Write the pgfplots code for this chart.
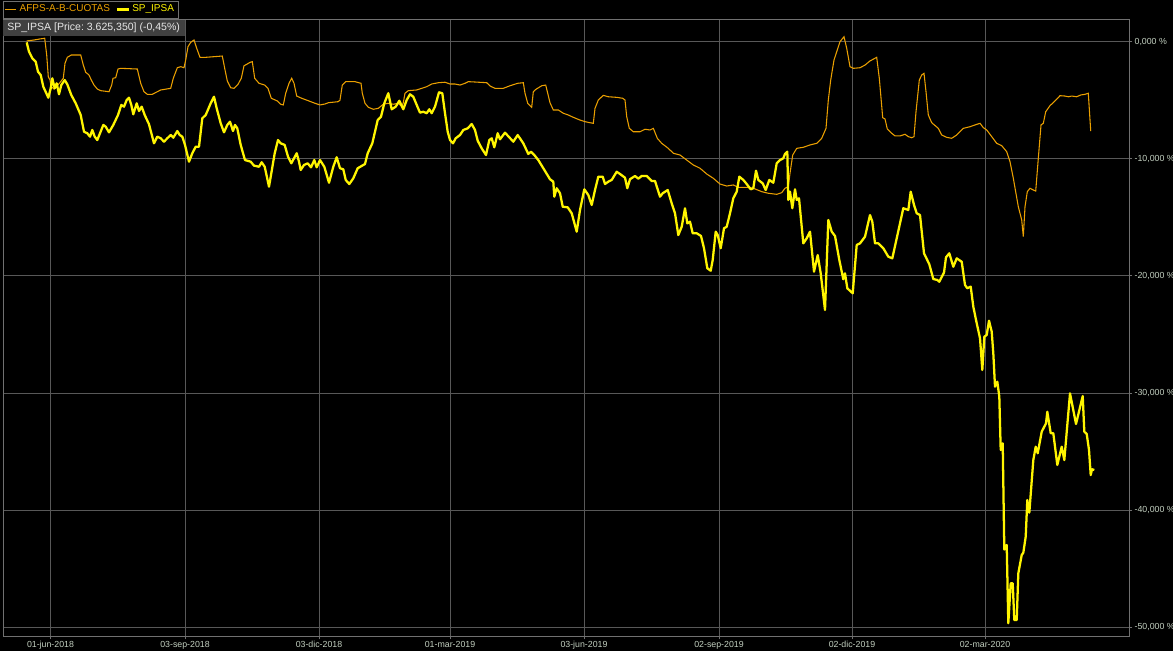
\documentclass[border=0pt]{standalone}
\usepackage{pgfplots}
\pgfplotsset{compat=1.18}
\usepackage{fontspec}
\setmainfont{Liberation Sans}
\frenchspacing

\definecolor{afp}{RGB}{235,160,0}
\definecolor{ipsa}{RGB}{255,245,0}
\definecolor{gridc}{RGB}{88,88,88}
\definecolor{framec}{RGB}{112,112,112}
\definecolor{tickc}{RGB}{195,208,192}
\definecolor{tagbg}{RGB}{64,64,64}

% x is the horizontal position on the chart (1 unit per pixel column), y is percent change
\pgfplotstableread{
x y
26.7 0.09
34 0.17
40 0.26
44.7 0.32
46.7 -1.11
48.3 -2.97
50 -3.25
51.3 -3.82
54 -4.02
57.3 -3.74
60.7 -3.39
63.3 -3.10
65 -1.82
67.3 -1.31
71.3 -1.11
80.7 -1.11
83.3 -1.97
85.7 -2.59
89 -2.82
91.3 -3.25
94 -3.68
97.3 -4.02
100.7 -4.16
109 -4.25
111.7 -3.68
113 -3.10
115.7 -3.05
118 -2.31
120.7 -2.25
137.3 -2.31
140.7 -3.53
144 -4.25
147.3 -4.47
152.3 -4.47
157.3 -4.25
160.7 -4.10
170.7 -3.96
173.3 -3.10
177.3 -2.20
180.7 -2.11
184 -2.20
185.7 -1.54
188 -0.40
190.7 -0.03
194 0.17
196.7 -0.54
200 -1.31
205.7 -1.31
213.3 -1.26
222.3 -1.20
224.7 -2.25
227.3 -3.33
230.7 -3.91
234 -3.96
238 -3.62
241.3 -3.10
244 -2.03
246.7 -1.91
250 -1.74
252.3 -1.68
254.7 -3.10
259 -3.53
264.7 -3.68
268 -3.96
271.3 -4.81
277.3 -5.04
280.7 -5.32
283.3 -5.38
285.7 -4.38
289 -3.53
291.7 -3.10
294 -3.53
296.7 -4.62
301.7 -4.81
308.3 -5.02
315 -5.24
320 -5.38
325 -5.30
328.3 -5.19
338.3 -5.10
340 -4.96
342.3 -3.68
345.7 -3.39
355 -3.39
361 -3.53
362.3 -4.38
365 -5.24
368.3 -5.58
373.3 -5.75
378.3 -5.67
383.3 -5.32
388.3 -5.24
393.3 -5.32
398.3 -5.24
401.7 -5.53
403.3 -5.19
405 -4.38
408.3 -4.16
416.7 -4.10
421.7 -3.96
426.7 -3.82
431.7 -3.59
438.3 -3.48
445 -3.44
450 -3.59
455 -3.59
460 -3.68
465 -3.53
468.3 -3.39
475 -3.42
486.7 -3.48
490 -3.76
495 -3.96
503.3 -3.96
510 -3.74
517.7 -3.53
523.3 -3.48
525 -4.38
527.7 -5.24
531.7 -5.58
533.3 -4.25
536 -4.04
541.7 -3.74
545.7 -3.68
547.7 -4.38
550 -5.19
553.3 -5.81
558.3 -5.81
563.3 -6.09
568.3 -6.24
573.3 -6.44
580 -6.67
585 -6.81
590 -6.90
593.3 -6.95
595 -5.67
598.3 -4.96
603.3 -4.56
608.3 -4.68
616.7 -4.73
622.7 -4.81
625 -4.96
626.7 -6.38
629.3 -7.38
633.3 -7.67
640 -7.67
645 -7.46
650 -7.52
653.3 -7.38
657.3 -8.23
661.7 -8.66
668.3 -9.09
673.3 -9.51
680 -9.66
686.7 -10.09
693.3 -10.51
700 -10.79
706.7 -11.28
713.3 -11.65
720 -12.14
726.7 -12.31
733.3 -12.22
738.3 -12.42
746.7 -12.42
753.3 -12.50
761.7 -12.79
768.3 -12.93
776.7 -13.02
781.7 -12.88
785 -12.50
788.3 -12.37
790 -11.22
792.7 -9.66
796.7 -9.09
803.3 -9.00
810 -8.80
816.7 -8.66
821.7 -8.23
826 -7.38
828.3 -4.96
830.7 -3.25
834 -1.54
840 0.03
844 0.45
846.7 -0.54
850 -2.11
853.3 -2.25
860 -2.20
865 -1.97
870 -1.62
876.7 -1.31
879.3 -3.10
882.7 -6.47
885 -6.58
887.3 -7.44
891.7 -7.80
895 -8.03
900 -8.03
905 -7.89
908.3 -8.09
911.7 -8.18
914 -8.09
916 -5.96
919.3 -3.25
921.7 -2.82
924 -2.68
926 -4.25
928.3 -6.24
931.7 -6.90
938.3 -7.38
941.7 -7.95
946.7 -8.15
951.7 -8.23
956.7 -7.95
963.3 -7.38
970 -7.24
975 -7.09
980 -6.95
983.3 -7.32
986.7 -7.52
991.7 -8.09
996.7 -8.66
1001.7 -8.86
1006.7 -9.38
1010 -10.23
1013.3 -11.65
1018.3 -14.08
1021.7 -15.21
1023.3 -16.64
1025 -14.08
1027.3 -12.79
1030 -12.50
1033.3 -12.65
1035.7 -12.74
1038.3 -9.94
1041 -7.09
1043.3 -6.95
1045.7 -5.96
1050 -5.44
1055 -5.04
1060 -4.59
1065 -4.62
1068.3 -4.68
1071.7 -4.62
1076.7 -4.68
1080.7 -4.53
1085 -4.47
1088.3 -4.38
1090.7 -7.61
}\afptable

\pgfplotstableread{
x y
26.7 -0.03
29 -0.83
32.3 -1.39
35.7 -1.68
38 -2.54
40.7 -2.82
43.3 -3.82
46.3 -4.38
48.3 -4.76
50.7 -3.96
52.3 -3.10
54.7 -3.96
56.7 -3.53
59 -4.47
61.3 -3.68
64.7 -3.25
67.3 -3.62
71.3 -4.53
75.7 -5.24
80.7 -6.24
84 -7.67
87.3 -7.80
90 -8.09
92.3 -7.52
94.7 -8.09
97.3 -8.38
100 -7.80
103.3 -7.09
105.7 -7.24
109 -7.72
113.3 -7.09
118 -6.24
121.3 -5.38
124 -5.53
126.7 -4.96
129 -4.76
131.3 -5.38
133.3 -6.18
136.7 -5.24
139 -5.90
141.7 -5.53
144.7 -6.24
149 -7.03
154 -8.66
157.3 -8.09
160.7 -8.23
164 -8.52
167.3 -8.23
170.7 -7.95
173.3 -8.18
177.3 -7.61
179.7 -7.95
182.3 -8.09
185 -8.80
189 -10.23
192.3 -9.51
195.7 -8.95
199 -8.95
202.3 -6.52
205.7 -6.24
210.7 -5.24
214 -4.68
216.7 -5.67
220.7 -6.95
224 -7.72
227.3 -7.09
230 -6.81
233 -7.61
235 -7.09
237.3 -7.38
240.7 -8.80
245 -10.09
250.7 -10.23
254 -10.57
259 -10.66
261.7 -10.28
264.7 -10.66
269 -12.37
271.3 -11.22
274.7 -9.51
278 -8.38
280.7 -8.66
284.7 -8.80
288 -9.80
291.3 -10.37
294 -9.94
296.7 -9.51
299 -10.23
300.7 -10.94
304 -10.51
307.7 -10.37
311 -10.71
314.3 -10.09
316.7 -10.71
320 -10.09
324.3 -10.66
329 -12.03
333.3 -10.66
336.7 -9.85
340 -10.79
343.3 -10.88
345.7 -11.79
349.3 -12.14
353.3 -11.65
357.7 -10.79
365 -10.43
367.7 -9.51
372.3 -8.66
377.7 -6.67
381 -6.38
384.3 -5.24
388.3 -4.38
391.7 -5.75
395.7 -5.53
399.3 -5.02
403.3 -5.75
406.7 -4.96
410 -4.47
413.3 -4.68
416.7 -5.38
420 -6.04
423.3 -5.96
426.7 -6.09
429.3 -5.75
431.7 -6.09
435 -5.53
439 -4.30
442.3 -4.38
445 -6.09
447.7 -7.67
450 -8.38
453 -8.66
455.7 -8.23
460 -7.95
463.3 -7.52
467.7 -7.38
471.7 -7.01
475 -7.52
477.7 -8.44
481.7 -9.09
486 -9.66
489.3 -8.38
491.7 -8.23
494.3 -9.00
497.7 -7.80
500 -8.32
505 -7.75
509.3 -8.15
513.3 -8.52
517.7 -7.95
523.3 -8.66
528.3 -9.57
531 -9.38
534.3 -9.66
538.3 -10.09
543.3 -10.79
550 -11.73
553.3 -11.94
554.3 -13.22
556.7 -12.50
560 -12.93
562.7 -14.08
567.7 -14.13
571.7 -14.64
576.7 -16.21
580 -14.36
584.3 -12.59
588.3 -13.08
591.7 -13.93
595 -12.65
598.3 -11.51
602.7 -11.51
605 -12.14
608.3 -11.94
611.7 -11.79
616.7 -11.09
620 -11.28
625 -11.60
627.3 -12.50
630 -11.73
635 -11.45
638.3 -11.68
641.7 -11.45
646.7 -11.45
651.7 -11.88
655 -11.88
660 -13.22
662.7 -12.93
667.7 -12.65
671.7 -13.79
675 -14.64
678.3 -16.50
681.7 -15.79
685 -14.21
687.3 -15.50
690 -15.36
692.7 -16.35
696.7 -16.35
701 -16.58
704 -17.63
707.3 -19.34
710.7 -19.55
712.7 -18.63
715.7 -16.21
717.7 -16.50
720.7 -17.63
724 -15.92
726.7 -15.79
730 -14.64
733.3 -13.36
736.7 -12.79
739.3 -11.51
743.3 -11.79
746.7 -12.14
750.7 -12.59
753.3 -12.50
756 -11.00
758.3 -11.79
762.7 -12.08
765.7 -12.65
769.3 -11.79
773.3 -12.03
776.7 -10.37
780 -10.09
783.3 -9.94
785 -9.57
787.3 -9.38
788.3 -13.50
790 -12.79
792.3 -14.21
795 -12.59
796.7 -13.50
799 -13.36
803.3 -17.21
806.7 -16.78
810 -16.21
814 -19.63
817.7 -18.21
820.7 -19.77
825 -22.91
828.3 -15.21
831.7 -16.21
835 -16.58
839.3 -18.63
843.3 -20.28
845 -19.77
847.3 -21.05
852.7 -21.48
856.7 -17.35
860 -17.21
865 -16.64
870 -14.79
872.3 -15.36
875 -17.21
878.3 -17.21
883.3 -17.63
888.3 -18.35
892.3 -18.49
896.7 -16.78
903.3 -14.21
908.3 -14.36
910.7 -12.79
914 -13.93
916.7 -14.64
920 -14.79
924 -18.06
929.3 -19.00
933.3 -20.26
937.3 -20.34
939.3 -20.49
944 -19.70
946 -18.40
949.3 -18.06
953.3 -19.21
956.7 -18.49
961.7 -18.78
965 -20.77
967.3 -21.05
970.7 -20.91
973.3 -22.62
976.7 -24.04
980 -25.32
982.3 -28.03
984.3 -25.19
986.7 -25.04
989 -23.82
991.7 -24.76
993.3 -26.61
995 -29.46
997.3 -29.03
999.3 -30.32
1000.7 -34.87
1002.7 -34.30
1004.3 -43.38
1006.7 -42.99
1008.3 -49.68
1010.7 -46.27
1012.7 -46.27
1014.3 -49.40
1016.7 -49.40
1018.3 -45.41
1021.7 -43.85
1023.3 -43.65
1025.7 -42.28
1027.3 -39.15
1029.3 -40.23
1033.3 -35.73
1035.7 -34.59
1037.7 -35.15
1041.7 -33.31
1046 -32.59
1047.3 -31.60
1050.7 -33.44
1053.3 -33.44
1057.3 -36.15
1061.7 -34.59
1064.3 -35.73
1070 -30.03
1076 -32.65
1082.7 -30.26
1084.3 -33.31
1086.7 -33.50
1089 -34.87
1090.7 -37.01
1092 -36.52
1094.3 -36.58
}\ipsatable

\begin{document}
\begin{tikzpicture}
\fill[black] (0,0) rectangle (879.75pt,488.25pt);
\begin{axis}[
  at={(2.25pt,473.25pt)}, anchor=north west,
  scale only axis,
  width=844.5pt, height=462pt,
  xmin=3, xmax=1129,
  ymin=-50.77, ymax=1.88,
  axis line style={framec, line width=0.75pt},
  grid=major,
  major grid style={gridc, line width=0.75pt},
  tick align=outside,
  major tick length=2.5pt,
  tick style={framec, line width=0.75pt},
  xtick pos=bottom, ytick pos=right,
  yticklabel pos=right,
  xtick={50.5,185,319,450,584,719,852,985},
  xticklabels={01-jun-2018,03-sep-2018,03-dic-2018,01-mar-2019,03-jun-2019,02-sep-2019,02-dic-2019,02-mar-2020},
  ytick={-50,-40,-30,-20,-10,0},
  yticklabels={-50{,}000 \%,-40{,}000 \%,-30{,}000 \%,-20{,}000 \%,-10{,}000 \%,0{,}000 \%},
  ticklabel style={font=\fontsize{6.6}{7}\selectfont, text=tickc},
  xticklabel style={inner sep=1.2pt},
  yticklabel style={inner sep=1.5pt},
  legend columns=2,
  legend style={at={(rel axis cs:0,1)}, anchor=south west, yshift=1.4pt,
    draw=framec, fill=black, font=\fontsize{7.5}{8}\selectfont,
    inner xsep=1pt, inner ysep=0.9pt,
    /tikz/every even column/.append style={column sep=2.5pt}},
  legend image code/.code={\draw[#1] (0pt,0pt) -- (8.5pt,0pt);},
]
\addplot[afp, line width=0.8pt] table[x=x, y=y] {\afptable};
\addlegendentry{\textcolor{afp}{AFPS-A-B-CUOTAS}}
\addplot[ipsa, line width=1.7pt, line join=round] table[x=x, y=y] {\ipsatable};
\addlegendentry{\textcolor{ipsa}{SP\_IPSA}}
\node[anchor=north west, fill=tagbg, text={rgb,255:red,232;green,232;blue,232},
  font=\fontsize{7.9}{9}\selectfont, inner xsep=3pt, inner ysep=0pt, minimum height=12pt]
  at (rel axis cs:0,1) {\makebox[130.5pt][l]{SP\_IPSA [Price: 3.625,350] (-0,45\%)}};
\end{axis}
\pgfresetboundingbox
\useasboundingbox (0,0) rectangle (879.75pt,488.25pt);
\end{tikzpicture}
\end{document}
